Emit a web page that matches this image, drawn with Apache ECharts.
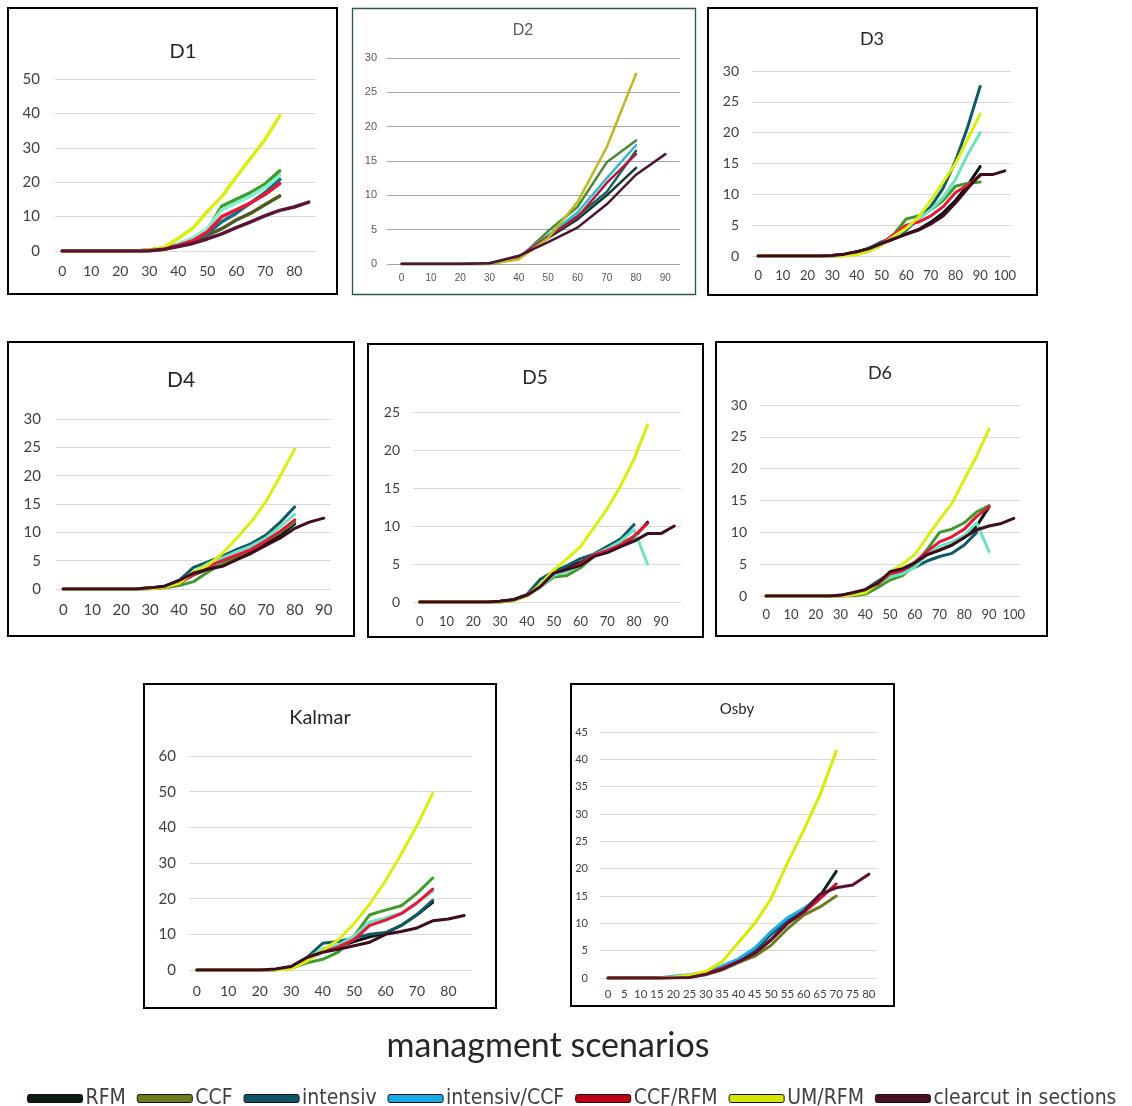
<!DOCTYPE html>
<html>
<head>
<meta charset="utf-8">
<script src="https://cdn.jsdelivr.net/npm/echarts@6/dist/echarts.min.js"></script>
<style>
html, body { margin: 0; padding: 0; background: #fff; }
#main { width: 1132px; height: 1106px; }
</style>
</head>
<body>
<div id="main"></div>
<script>
// scenario order used by every values table below
var scenarios = ['RFM', 'CCF', 'intensiv', 'intensiv/CCF', 'CCF/RFM', 'UM/RFM', 'clearcut in sections'];
var legendColors = ['#0c1e12', '#6b7d1f', '#0f5566', '#19a9e6', '#c00018', '#d6e600', '#4a1026'];

// x categories (age)
var d1Ages = [0, 5, 10, 15, 20, 25, 30, 35, 40, 45, 50, 55, 60, 65, 70, 75, 80, 85];
var d2Ages = [0, 10, 20, 30, 40, 50, 60, 70, 80, 90];
var d3Ages = [0, 5, 10, 15, 20, 25, 30, 35, 40, 45, 50, 55, 60, 65, 70, 75, 80, 85, 90, 95, 100];
var d4Ages = [0, 5, 10, 15, 20, 25, 30, 35, 40, 45, 50, 55, 60, 65, 70, 75, 80, 85, 90];
var d5Ages = [0, 5, 10, 15, 20, 25, 30, 35, 40, 45, 50, 55, 60, 65, 70, 75, 80, 85, 90, 95];
var d6Ages = [0, 5, 10, 15, 20, 25, 30, 35, 40, 45, 50, 55, 60, 65, 70, 75, 80, 85, 90, 95, 100];
var kalmarAges = [0, 5, 10, 15, 20, 25, 30, 35, 40, 45, 50, 55, 60, 65, 70, 75, 80, 85];
var osbyAges = [0, 5, 10, 15, 20, 25, 30, 35, 40, 45, 50, 55, 60, 65, 70, 75, 80];

// values, one row per scenario (same order as scenarios)
var d1Values = [
	[0, 0, 0, 0, 0, 0, 0.1, 0.5, 1.5, 2.5, 4.5, 6.5, 9, 11, 13.5, 16],
	[0, 0, 0, 0, 0, 0, 0.2, 0.8, 2, 3.5, 6, 13, 15, 17, 19.5, 23.3],
	[0, 0, 0, 0, 0, 0, 0.2, 0.8, 1.8, 3, 5, 8.5, 11, 14, 17, 20.8],
	[0, 0, 0, 0, 0, 0, 0.2, 0.8, 2, 3.8, 6.5, 12, 14, 16, 18.5, 22],
	[0, 0, 0, 0, 0, 0, 0.2, 0.8, 1.6, 3, 5.5, 10, 12, 14, 16.5, 19.6],
	[0, 0, 0, 0, 0, 0, 0.2, 1, 3.7, 6.6, 11.5, 15.8, 21.5, 27, 32.5, 39.3],
	[0, 0, 0, 0, 0, 0, 0.1, 0.5, 1.3, 2.2, 3.5, 5, 6.8, 8.5, 10.3, 11.8, 12.8, 14.2]
];
var d2Values = [
	[0, 0, 0, 0.1, 1, 3.8, 6.5, 10, 14],
	[0, 0, 0, 0, 0.8, 4.8, 8.3, 14.8, 18],
	[0, 0, 0, 0, 1, 4, 7, 10.5, 16.5],
	[0, 0, 0, 0, 1, 4.2, 7.5, 12.5, 17.3],
	[0, 0, 0, 0, 1, 4, 6.8, 11.8, 16],
	[0, 0, 0, 0, 0.7, 3.8, 9, 17, 27.7],
	[0, 0, 0, 0.1, 1.2, 3.2, 5.3, 8.7, 13, 16]
];
var d3Values = [
	[0, 0, 0, 0, 0, 0, 0.1, 0.3, 0.7, 1.2, 2, 2.8, 3.6, 4.3, 5.5, 7, 9, 11.5, 14.5],
	[0, 0, 0, 0, 0, 0, 0, 0.1, 0.3, 0.8, 1.8, 3.5, 6, 6.5, 7.5, 9, 11.3, 11.8, 12],
	[0, 0, 0, 0, 0, 0, 0.1, 0.2, 0.6, 1.3, 2.3, 3, 4.2, 6, 8, 11, 15.4, 21, 27.5],
	[0, 0, 0, 0, 0, 0, 0, 0.1, 0.4, 1, 2, 3, 4.5, 6, 7.5, 9.5, 12.4, 16.5, 20],
	[0, 0, 0, 0, 0, 0, 0, 0.1, 0.4, 1, 2, 3.5, 5, 5.5, 6.5, 8, 10.3, 11.5, 13],
	[0, 0, 0, 0, 0, 0, 0, 0, 0.2, 0.8, 1.8, 3.2, 4.5, 6.3, 9, 12, 15, 19, 23],
	[0, 0, 0, 0, 0, 0, 0.1, 0.3, 0.7, 1.2, 2, 2.8, 3.5, 4.2, 5.2, 6.5, 8.6, 11, 13.2, 13.2, 13.8]
];
var d4Values = [
	[0, 0, 0, 0, 0, 0, 0.2, 0.5, 1.3, 2.5, 3.5, 4.3, 5.3, 6.5, 8, 9.5, 11.5],
	[0, 0, 0, 0, 0, 0, 0, 0.2, 0.6, 1.3, 3, 4.5, 5.8, 7, 8.5, 10, 11.8],
	[0, 0, 0, 0, 0, 0, 0.1, 0.4, 1.5, 3.8, 4.8, 5.8, 7, 8, 9.5, 11.8, 14.5],
	[0, 0, 0, 0, 0, 0, 0.1, 0.3, 1.1, 3, 4.5, 5.5, 6.6, 7.6, 9, 11, 13.2],
	[0, 0, 0, 0, 0, 0, 0.1, 0.3, 1, 2.5, 4, 5, 6, 7, 8.5, 10.2, 12.2],
	[0, 0, 0, 0, 0, 0, 0, 0.3, 1, 3, 4.2, 6.3, 9, 11.9, 15.4, 20, 24.7],
	[0, 0, 0, 0, 0, 0, 0.2, 0.5, 1.5, 2.8, 3.5, 4, 5.2, 6.3, 7.7, 9, 10.7, 11.8, 12.5]
];
var d5Values = [
	[0, 0, 0, 0, 0, 0, 0.1, 0.3, 0.9, 2.2, 4, 4.6, 5.2, 6.2, 6.8, 7.5, 8.5, 10.5],
	[0, 0, 0, 0, 0, 0, 0, 0.2, 0.8, 2, 3.3, 3.5, 4.5, 6, 7.3, 7.8, 8.5],
	[0, 0, 0, 0, 0, 0, 0.1, 0.3, 1, 3, 4, 4.8, 5.7, 6.3, 7.3, 8.3, 10.2],
	[0, 0, 0, 0, 0, 0, 0, 0.2, 0.9, 2, 3.5, 4, 4.8, 6.2, 7, 8, 9.5, 5],
	[0, 0, 0, 0, 0, 0, 0, 0.2, 0.9, 2.2, 3.8, 4.3, 5, 6.2, 6.8, 7.5, 8.7, 10.3],
	[0, 0, 0, 0, 0, 0, 0, 0.2, 0.8, 2.3, 4.2, 5.7, 7.3, 9.8, 12.3, 15.3, 18.8, 23.3],
	[0, 0, 0, 0, 0, 0, 0.1, 0.3, 0.9, 2, 3.8, 4.3, 4.8, 6, 6.5, 7.3, 8, 9, 9, 10]
];
var d6Values = [
	[0, 0, 0, 0, 0, 0, 0.1, 0.4, 0.8, 2, 3.5, 4.2, 5, 6.5, 7.2, 8, 9.2, 11, 14],
	[0, 0, 0, 0, 0, 0, 0, 0, 0.3, 1.3, 2.5, 3.2, 4.8, 7.3, 10, 10.5, 11.5, 13.2, 14.2],
	[0, 0, 0, 0, 0, 0, 0.1, 0.5, 1, 2.3, 3.5, 3.8, 4.5, 5.5, 6.2, 6.7, 8, 10],
	[0, 0, 0, 0, 0, 0, 0, 0.2, 0.7, 1.8, 3, 3.5, 4.5, 6.5, 7.8, 8.5, 9.5, 11.5, 7],
	[0, 0, 0, 0, 0, 0, 0, 0.2, 0.7, 1.8, 3.5, 4, 5.3, 7, 8.5, 9.3, 10.5, 12.5, 14],
	[0, 0, 0, 0, 0, 0, 0, 0.2, 0.5, 2, 3.8, 5, 6.5, 9.3, 12, 14.5, 18.3, 22, 26.2],
	[0, 0, 0, 0, 0, 0, 0.1, 0.5, 1, 2, 3.8, 4.3, 5.2, 6.5, 7.2, 8, 9.2, 10.4, 11, 11.4, 12.2]
];
var kalmarValues = [
	[0, 0, 0, 0, 0, 0.1, 0.8, 3.3, 5.5, 6.5, 8, 9.3, 10.3, 12.5, 15.5, 19],
	[0, 0, 0, 0, 0, 0.1, 0.5, 2, 3, 5, 9.5, 15.5, 16.8, 18, 21.5, 25.8],
	[0, 0, 0, 0, 0, 0.1, 1, 3.5, 7.5, 8, 9, 10, 10.5, 12.5, 15.5, 19.5],
	[0, 0, 0, 0, 0, 0.1, 0.8, 3, 6, 7, 9.5, 13.5, 14.5, 16, 19, 22],
	[0, 0, 0, 0, 0, 0.1, 0.8, 3, 5, 6.5, 8.5, 12.5, 14, 15.8, 18.8, 22.7],
	[0, 0, 0, 0, 0, 0, 0.3, 2.5, 5.5, 8.5, 13, 18.5, 25, 32.5, 40.5, 49.5],
	[0, 0, 0, 0, 0, 0.3, 1, 3.5, 5, 5.8, 6.8, 7.8, 10, 10.8, 11.8, 13.8, 14.3, 15.3]
];
var osbyValues = [
	[0, 0, 0, 0, 0.1, 0.3, 0.8, 1.8, 3, 4.5, 7, 10, 12, 15, 19.5],
	[0, 0, 0, 0, 0.1, 0.2, 0.6, 1.5, 2.8, 4, 6, 9, 11.5, 13, 15],
	[0, 0, 0, 0, 0.2, 0.5, 1, 2, 3.2, 5, 8, 10.5, 12.5, 14.8],
	[0, 0, 0, 0, 0.3, 0.6, 1, 2.2, 3.5, 5.5, 8.5, 11, 12.7, 15],
	[0, 0, 0, 0, 0.1, 0.3, 0.8, 1.8, 3, 4.5, 7, 10, 12, 14.5, 17.2],
	[0, 0, 0, 0, 0.2, 0.5, 1.2, 3, 6.5, 10, 14.5, 21, 27, 33.5, 41.5],
	[0, 0, 0, 0, 0, 0.1, 0.7, 1.6, 3, 4.5, 7, 10, 12.2, 15.3, 16.5, 17, 19]
];

// colours each panel actually uses
var paletteD1 = ['#4d5a1d', '#3e9a2a', '#137080', '#86efcb', '#e8183c', '#d9ef0e', '#5a1536'];
var paletteD2 = ['#0f3a28', '#4a8a34', '#1d5c66', '#33b9c9', '#b5183c', '#b9bb1e', '#4d1535'];
var paletteD = ['#0a120c', '#3e9a2a', '#0f5a66', '#6fe3c0', '#e3183c', '#d9ef0e', '#3f0c1f'];
var paletteOsby = ['#0a2a18', '#6b7d1f', '#0f5566', '#1ab0e6', '#d41030', '#d6ec00', '#5a1030'];

var calibri = 'Lato, "Open Sans", sans-serif';

var panels = [
	{ title: 'D1', ages: d1Ages, values: d1Values, yMax: 50, yStep: 10, every: 1, colors: paletteD1,
		box: [8, 8, 329, 286], grid: [55, 79, 261, 172], tpos: [183, 52, 20], yFont: 15, xFont: 14, yMargin: 15, xMargin: 13, lw: 3.5 },
	{ title: 'D2', ages: d2Ages, values: d2Values, yMax: 30, yStep: 5, every: 0, colors: paletteD2,
		box: [352.5, 8.5, 343, 286], grid: [387, 58, 293, 206], tpos: [523, 31, 16], yFont: 11, xFont: 10, yMargin: 10, xMargin: 9, lw: 2.5,
		arial: true, split: '#a6a6a6', border: '#2a5a3e', bw: 1.3 },
	{ title: 'D3', ages: d3Ages, values: d3Values, yMax: 30, yStep: 5, every: 1, colors: paletteD,
		box: [708, 8, 329, 287], grid: [752, 71, 259, 185], tpos: [872, 39, 18], yFont: 14, xFont: 13, yMargin: 13, xMargin: 13, lw: 3 },
	{ title: 'D4', ages: d4Ages, values: d4Values, yMax: 30, yStep: 5, every: 1, colors: paletteD,
		box: [8, 342, 346, 294], grid: [56, 419, 275, 170], tpos: [181, 380, 21], yFont: 15, xFont: 15, yMargin: 15, xMargin: 14, lw: 3 },
	{ title: 'D5', ages: d5Ages, values: d5Values, yMax: 25, yStep: 5, every: 1, colors: paletteD,
		box: [368, 344, 335, 293], grid: [413, 412, 268, 190], tpos: [535, 378, 19], yFont: 14, xFont: 13, yMargin: 13, xMargin: 13, lw: 3 },
	{ title: 'D6', ages: d6Ages, values: d6Values, yMax: 30, yStep: 5, every: 1, colors: paletteD,
		box: [716, 342, 331, 294], grid: [760, 405, 260, 191], tpos: [880, 373, 18], yFont: 14, xFont: 13, yMargin: 13, xMargin: 12, lw: 3 },
	{ title: 'Kalmar', ages: kalmarAges, values: kalmarValues, yMax: 60, yStep: 10, every: 1, colors: paletteD,
		box: [144, 684, 352, 324], grid: [189, 756, 283, 214], tpos: [320, 718, 20], yFont: 15, xFont: 14, yMargin: 13, xMargin: 14, lw: 3 },
	{ title: 'Osby', ages: osbyAges, values: osbyValues, yMax: 45, yStep: 5, every: 0, colors: paletteOsby,
		box: [571, 684, 323, 322], grid: [600, 732, 277, 246], tpos: [737, 709, 15], yFont: 11, xFont: 11.5, yMargin: 12, xMargin: 10, lw: 3 }
];

var myChart = echarts.init(document.getElementById('main'));

var grids = [], xAxes = [], yAxes = [], series = [], graphics = [];

panels.forEach(function(p, i) {
	var font = p.arial ? '"Liberation Sans", Arial, sans-serif' : calibri;
	var labelColor = p.arial ? '#595959' : '#404040';

	graphics.push({
		type: 'rect',
		shape: { x: p.box[0], y: p.box[1], width: p.box[2], height: p.box[3] },
		style: { fill: 'none', stroke: p.border || '#000', lineWidth: p.bw || 2 },
		z: 1
	});
	graphics.push({
		type: 'text',
		x: p.tpos[0],
		y: p.tpos[1],
		style: {
			text: p.title,
			align: 'center',
			verticalAlign: 'middle',
			fill: p.arial ? '#595959' : '#262626',
			font: p.tpos[2] + 'px ' + font
		},
		z: 5
	});

	grids.push({ left: p.grid[0], top: p.grid[1], width: p.grid[2], height: p.grid[3], containLabel: false });

	xAxes.push({
		type: 'category',
		gridIndex: i,
		data: p.ages,
		boundaryGap: true,
		axisLine: { show: false },
		axisTick: { show: false },
		axisLabel: {
			interval: p.every,
			color: labelColor,
			fontSize: p.xFont,
			fontFamily: font,
			margin: p.xMargin
		}
	});

	yAxes.push({
		type: 'value',
		gridIndex: i,
		min: 0,
		max: p.yMax,
		interval: p.yStep,
		axisLine: { show: false },
		axisTick: { show: false },
		splitLine: { lineStyle: { color: p.split || '#d9d9d9', width: 1 } },
		axisLabel: {
			color: labelColor,
			fontSize: p.yFont,
			fontFamily: font,
			margin: p.yMargin
		}
	});

	p.values.forEach(function(vals, k) {
		series.push({
			name: scenarios[k],
			type: 'line',
			xAxisIndex: i,
			yAxisIndex: i,
			data: vals,
			showSymbol: false,
			symbol: 'none',
			smooth: false,
			color: p.colors[k],
			lineStyle: { width: p.lw, color: p.colors[k], cap: 'round', join: 'round' },
			emphasis: { disabled: true },
			z: 3
		});
	});
});

graphics.push({
	type: 'text',
	x: 548,
	y: 1046,
	style: {
		text: 'managment scenarios',
		align: 'center',
		verticalAlign: 'middle',
		fill: '#262626',
		font: '34px ' + calibri
	}
});

option = {
	animation: false,
	backgroundColor: '#fff',
	grid: grids,
	xAxis: xAxes,
	yAxis: yAxes,
	legend: {
		left: 22,
		top: 1083,
		itemWidth: 55,
		itemHeight: 8,
		itemGap: 11,
		selectedMode: false,
		textStyle: {
			color: '#404040',
			fontSize: 21,
			fontFamily: '"Liberation Sans Narrow", "DejaVu Sans Condensed", sans-serif',
			padding: [0, 0, 0, -2]
		},
		data: scenarios.map(function(name, k) {
			return {
				name: name,
				icon: 'roundRect',
				itemStyle: { color: legendColors[k], borderColor: '#111', borderWidth: 1 },
				lineStyle: { color: legendColors[k], width: 0 }
			};
		})
	},
	graphic: graphics,
	series: series
};

myChart.setOption(option, true);
</script>
</body>
</html>
